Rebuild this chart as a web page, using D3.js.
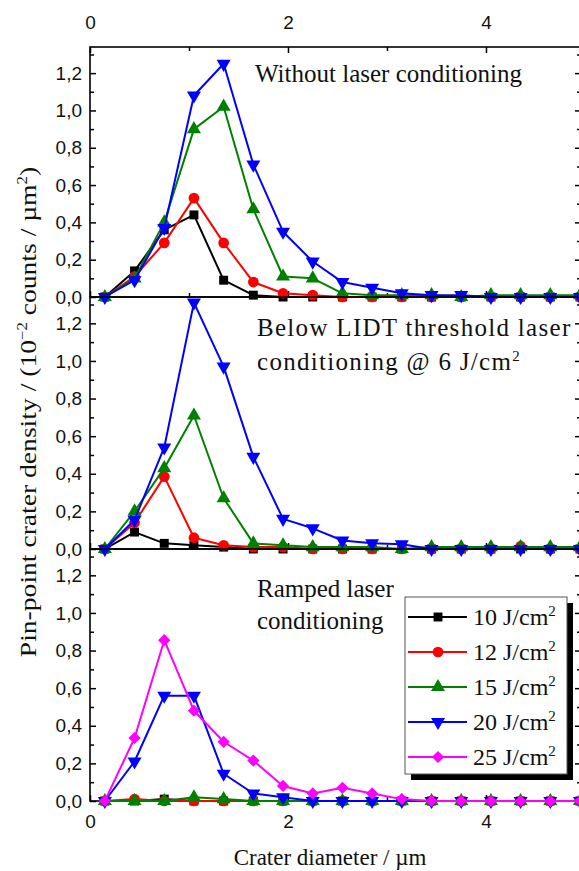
<!DOCTYPE html>
<html>
<head>
<meta charset="utf-8">
<script src="https://cdn.jsdelivr.net/npm/d3@7"></script>
<style>
  body { margin: 0; background: #fff; }
  svg { display: block; }
</style>
</head>
<body>
<svg id="chart" width="579" height="871"></svg>
<script>
// crater diameter bins (um)
const diameters = [0.15, 0.45, 0.75, 1.05, 1.35, 1.65, 1.95, 2.25, 2.55, 2.85, 3.15, 3.45, 3.75, 4.05, 4.35, 4.65, 4.95];

const fluences = ["10", "12", "15", "20", "25"];
const colors = ["#000000", "#ff0000", "#008000", "#0000ff", "#ff00ff"];

// panel 1: without laser conditioning
const noCond10 = [0, 0.14, 0.36, 0.44, 0.09, 0.01, 0, 0, 0, 0, 0, 0, 0, 0, 0, 0, 0];
const noCond12 = [0, 0.11, 0.29, 0.53, 0.29, 0.08, 0.02, 0.01, 0, 0, 0, 0, 0, 0, 0, 0, 0];
const noCond15 = [0, 0.10, 0.40, 0.90, 1.02, 0.47, 0.11, 0.10, 0.02, 0.01, 0.01, 0.01, 0, 0.01, 0.01, 0.01, 0.01];
const noCond20 = [0, 0.09, 0.37, 1.08, 1.25, 0.71, 0.35, 0.19, 0.08, 0.05, 0.02, 0.01, 0.01, 0, 0, 0, 0];

// panel 2: below LIDT conditioning @ 6 J/cm2
const belowCond10 = [0, 0.09, 0.03, 0.02, 0.01, 0, 0, 0, 0, 0, 0, 0, 0, 0, 0, 0, 0];
const belowCond12 = [0, 0.14, 0.385, 0.06, 0.02, 0.01, 0.01, 0, 0, 0, 0, 0, 0, 0, 0.015, 0, 0];
const belowCond15 = [0, 0.20, 0.43, 0.71, 0.27, 0.03, 0.02, 0.01, 0.01, 0.01, 0, 0.01, 0.01, 0.01, 0.01, 0.01, 0.01];
const belowCond20 = [0, 0.155, 0.54, 1.31, 0.97, 0.49, 0.16, 0.11, 0.045, 0.03, 0.025, 0, 0, 0, 0, 0, 0];

// panel 3: ramped conditioning
const ramped10 = [0, 0, 0.01, 0, 0, 0, 0, 0, 0, 0, 0, 0, 0, 0, 0, 0, 0];
const ramped12 = [0, 0.01, 0, 0, 0, 0, 0, 0, 0, 0, 0, 0, 0, 0, 0, 0, 0];
const ramped15 = [0, 0, 0, 0.02, 0.01, 0, 0, 0, 0, 0, 0, 0, 0, 0, 0, 0, 0];
const ramped20 = [0, 0.21, 0.56, 0.56, 0.145, 0.04, 0.02, 0, 0, 0, 0, 0, 0, 0, 0, 0, 0];
const ramped25 = [0, 0.335, 0.855, 0.48, 0.315, 0.215, 0.08, 0.04, 0.07, 0.04, 0.01, 0, 0, 0, 0, 0, 0];

const yTicks = [0, 0.2, 0.4, 0.6, 0.8, 1.0, 1.2];
const yMinor = [0.1, 0.3, 0.5, 0.7, 0.9, 1.1, 1.3];
const xTicks = [0, 2, 4];
const xMinor = [1, 3];

const panels = [
  { top: 47, bottom: 297, series: [noCond10, noCond12, noCond15, noCond20],
    label: ["Without laser conditioning"], lx: 255, ly: 82, gap: 0, spacing: 0 },
  { top: 297, bottom: 549, series: [belowCond10, belowCond12, belowCond15, belowCond20],
    label: ["Below LIDT threshold laser", "conditioning @ 6 J/cm"], lx: 257, ly: 336, gap: 34, spacing: 1.3 },
  { top: 549, bottom: 801, series: [ramped10, ramped12, ramped15, ramped20, ramped25],
    label: ["Ramped laser", "conditioning"], lx: 257, ly: 597, gap: 32, spacing: 0 }
];

const serif = "'Liberation Serif', 'Times New Roman', serif";
const sans = "'Liberation Sans', Arial, sans-serif";

const svg = d3.select("#chart");
const x = d3.scaleLinear().domain([0, 4.96]).range([90, 581]);

const fmt = d => d3.format(".1f")(d).replace(".", ",");

// marker shapes per series
const shapes = [
  d3.symbol().type(d3.symbolSquare).size(80),
  d3.symbol().type(d3.symbolCircle).size(90),
  d3.symbol().type(d3.symbolTriangle).size(85),
  d3.symbol().type(d3.symbolTriangle).size(85),
  d3.symbol().type(d3.symbolSquare).size(75)
];
const rotations = [0, 0, 0, 180, 45];

function drawMarker(g, i, cx, cy) {
  g.append("path")
    .attr("d", shapes[i]())
    .attr("fill", colors[i])
    .attr("transform", "translate(" + cx + "," + cy + ") rotate(" + rotations[i] + ")");
}

function styleLabels(a) {
  a.selectAll("text").attr("font-family", sans).attr("font-size", 19).attr("fill", "#111");
}

panels.forEach(function (p, pi) {
  const y = d3.scaleLinear().domain([0, 1.34]).range([p.bottom, p.top]);
  const g = svg.append("g");

  // y ticks, pointing inwards
  g.append("g")
    .attr("transform", "translate(90,0)")
    .call(d3.axisLeft(y).tickValues(yTicks).tickSize(-6).tickSizeOuter(0).tickPadding(8).tickFormat(fmt))
    .call(a => a.select(".domain").remove())
    .call(styleLabels);
  g.append("g")
    .attr("transform", "translate(90,0)")
    .call(d3.axisLeft(y).tickValues(yMinor).tickSize(-4).tickSizeOuter(0).tickFormat(""))
    .call(a => a.select(".domain").remove());

  // right side ticks
  g.append("g")
    .attr("transform", "translate(581,0)")
    .call(d3.axisRight(y).tickValues(yTicks).tickSize(-6).tickSizeOuter(0).tickFormat(""))
    .call(a => a.select(".domain").remove());
  g.append("g")
    .attr("transform", "translate(581,0)")
    .call(d3.axisRight(y).tickValues(yMinor).tickSize(-4).tickSizeOuter(0).tickFormat(""))
    .call(a => a.select(".domain").remove());

  // bottom ticks
  const last = pi === panels.length - 1;
  g.append("g")
    .attr("transform", "translate(0," + p.bottom + ")")
    .call(d3.axisBottom(x).tickValues(xTicks).tickSize(-6).tickSizeOuter(0).tickPadding(14)
      .tickFormat(last ? d3.format("d") : ""))
    .call(a => a.select(".domain").remove())
    .call(styleLabels);
  g.append("g")
    .attr("transform", "translate(0," + p.bottom + ")")
    .call(d3.axisBottom(x).tickValues(xMinor).tickSize(-4).tickSizeOuter(0).tickFormat(""))
    .call(a => a.select(".domain").remove());

  if (pi === 0) {
    g.append("g")
      .attr("transform", "translate(0," + p.top + ")")
      .call(d3.axisTop(x).tickValues(xTicks).tickSize(-6).tickSizeOuter(0).tickPadding(18).tickFormat(d3.format("d")))
      .call(a => a.select(".domain").remove())
      .call(styleLabels);
    g.append("g")
      .attr("transform", "translate(0," + p.top + ")")
      .call(d3.axisTop(x).tickValues(xMinor).tickSize(-4).tickSizeOuter(0).tickFormat(""))
      .call(a => a.select(".domain").remove());
  }
  g.selectAll(".tick line").attr("stroke", "#000").attr("stroke-width", 1.5);

  // frame
  g.append("rect")
    .attr("x", 90).attr("y", p.top)
    .attr("width", 491).attr("height", p.bottom - p.top)
    .attr("fill", "none").attr("stroke", "#000").attr("stroke-width", 1.6);

  // panel label
  const t = g.append("g").attr("font-family", serif).attr("font-size", 25).attr("fill", "#111");
  p.label.forEach(function (s, k) {
    const txt = t.append("text").attr("x", p.lx).attr("y", p.ly + k * p.gap)
      .attr("letter-spacing", p.spacing)
      .text(s);
    if (pi === 1 && k === 1) {
      txt.append("tspan").attr("font-size", 15).attr("dy", -9).text("2");
    }
  });

  // series
  const line = d3.line().x((d, k) => x(diameters[k])).y(d => y(d));
  p.series.forEach(function (vals, i) {
    const sg = g.append("g");
    sg.append("path")
      .attr("d", line(vals))
      .attr("fill", "none")
      .attr("stroke", colors[i])
      .attr("stroke-width", 2)
      .attr("stroke-linejoin", "round");
    vals.forEach(function (v, k) {
      drawMarker(sg, i, x(diameters[k]), y(v));
    });
  });
});

// legend
const lg = svg.append("g");
lg.append("rect").attr("x", 411).attr("y", 603).attr("width", 162).attr("height", 177).attr("fill", "#000");
lg.append("rect").attr("x", 405).attr("y", 597).attr("width", 162).attr("height", 177)
  .attr("fill", "#fff").attr("stroke", "#555").attr("stroke-width", 1);
fluences.forEach(function (f, i) {
  const yy = 617 + i * 35;
  lg.append("line").attr("x1", 408).attr("x2", 467).attr("y1", yy).attr("y2", yy)
    .attr("stroke", colors[i]).attr("stroke-width", 2);
  drawMarker(lg, i, 438, yy);
  const txt = lg.append("text").attr("x", 473).attr("y", yy + 8)
    .attr("font-family", serif).attr("font-size", 24).attr("fill", "#111")
    .text(f + " J/cm");
  txt.append("tspan").attr("font-size", 15).attr("dy", -9).text("2");
});

// axis titles
svg.append("text")
  .attr("x", 330).attr("y", 865)
  .attr("text-anchor", "middle")
  .attr("font-family", serif).attr("font-size", 23).attr("fill", "#111")
  .text("Crater diameter / µm");

// the scanned y title is stretched along its length
const yt = svg.append("text")
  .attr("transform", "translate(36,412) rotate(-90) scale(1.2,1)")
  .attr("text-anchor", "middle")
  .attr("font-family", serif).attr("font-size", 23).attr("fill", "#111");
yt.append("tspan").text("Pin-point crater density / (10");
yt.append("tspan").attr("font-size", 14).attr("dy", -9).text("−2");
yt.append("tspan").attr("dy", 9).text(" counts / µm");
yt.append("tspan").attr("font-size", 14).attr("dy", -9).text("2");
yt.append("tspan").attr("dy", 9).text(")");
</script>
</body>
</html>
